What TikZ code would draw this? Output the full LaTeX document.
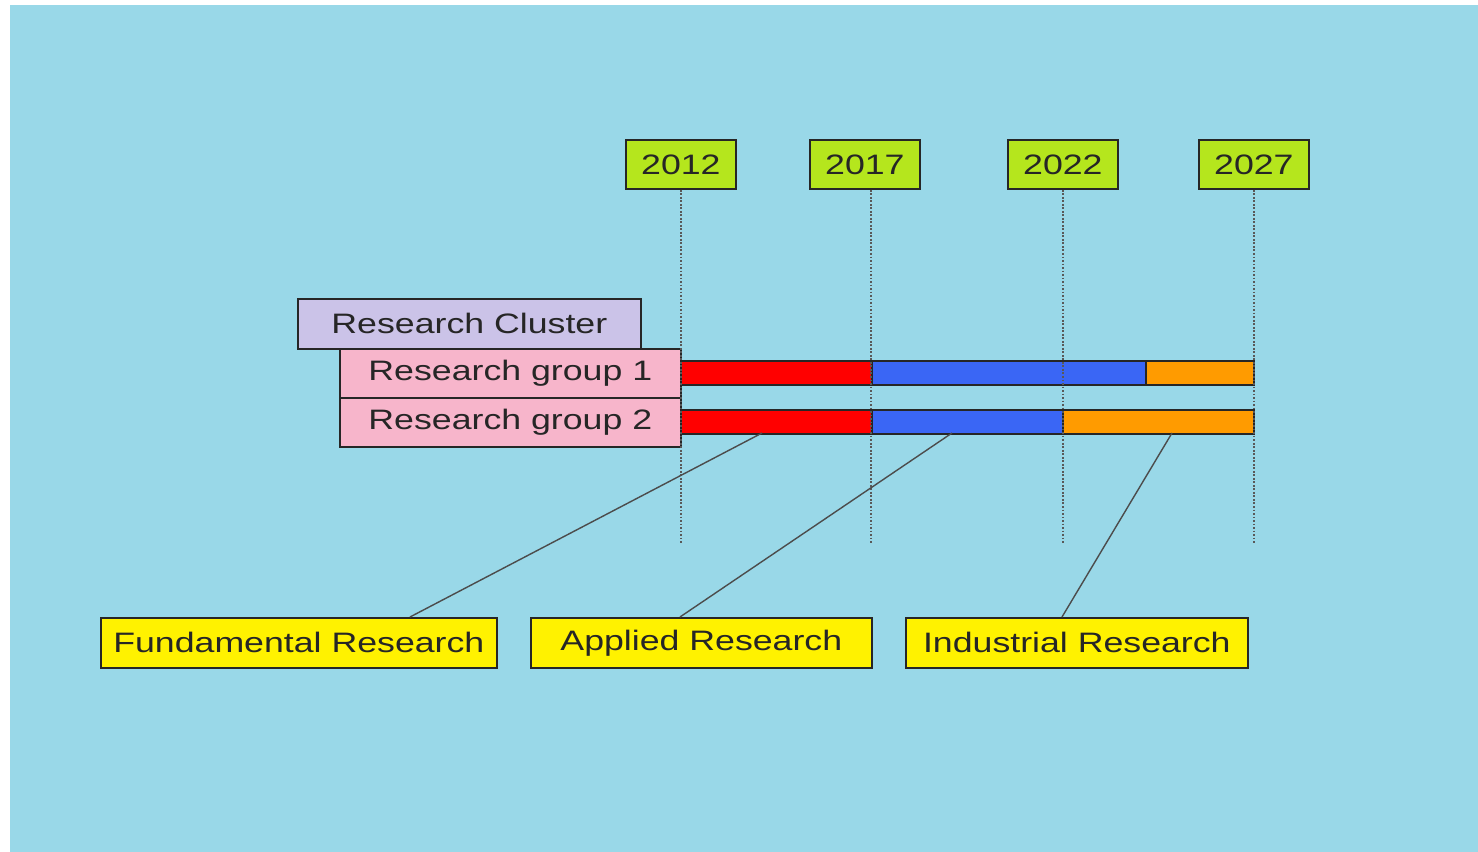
\documentclass[tikz,border=0pt]{standalone}
\usepackage{fontspec}
\newfontfamily\widesans{Liberation Sans}[FakeStretch=1.27]
\usetikzlibrary{positioning}

\definecolor{sky}{HTML}{99D8E8}
\definecolor{lime}{HTML}{B5E61D}
\definecolor{lavender}{HTML}{CBC3E8}
\definecolor{rose}{HTML}{F7B5CB}
\definecolor{barred}{HTML}{FF0000}
\definecolor{barblue}{HTML}{3A66F5}
\definecolor{barorange}{HTML}{FF9B00}
\definecolor{ink}{HTML}{262626}

\begin{document}
\begin{tikzpicture}[
  x=0.02cm, y=-0.02cm,
  box/.style={draw=ink, line width=1pt, anchor=north west, inner sep=0pt,
    font=\widesans\fontsize{16}{19}\selectfont, text=ink},
  year/.style={box, fill=lime, minimum width=2.2cm, minimum height=0.98cm},
  group/.style={box, fill=rose, minimum width=6.82cm, minimum height=0.98cm},
  phase/.style={box, fill=yellow, minimum height=1cm},
  bar/.style={draw=ink, line width=1pt, anchor=north west, inner sep=0pt, minimum height=0.48cm},
  guide/.style={draw=black!65, line width=1pt, densely dotted},
  link/.style={draw=black!70, line width=0.8pt}
]
\useasboundingbox (0,0) rectangle (1478,852);
\fill[sky] (10,5) rectangle (1478,852);

% years
\node[year] (y2012) at (625,139) {2012};
\node[year] (y2017) at (809,139) {2017};
\node[year] (y2022) at (1007,139) {2022};
\node[year] (y2027) at (1198,139) {2027};

% cluster and groups
\node[box, fill=lavender, minimum width=6.86cm, minimum height=1cm] (cluster) at (297,298) {Research Cluster};
\node[group] (grp1) at (339,348) {Research group 1};
\node[group] (grp2) at (339,397) {Research group 2};

% bars
\node[bar, fill=barred, minimum width=3.82cm] (red1) at (680,360) {};
\node[bar, fill=barblue, minimum width=5.48cm] (blue1) at (871,360) {};
\node[bar, fill=barorange, minimum width=2.16cm] (orange1) at (1145,360) {};
\node[bar, fill=barred, minimum width=3.82cm] (red2) at (680,409) {};
\node[bar, fill=barblue, minimum width=3.82cm] (blue2) at (871,409) {};
\node[bar, fill=barorange, minimum width=3.82cm] (orange2) at (1062,409) {};

% time guides
\coordinate (floor) at (0,543);
\draw[guide] (y2012.south) -- (y2012.south |- floor);
\draw[guide] (blue1.west |- y2017.south) -- (blue1.west |- floor);
\draw[guide] (y2022.south) -- (y2022.south |- floor);
\draw[guide] (y2027.south) -- (y2027.south |- floor);

% phases
\node[phase, minimum width=7.92cm] (fund) at (100,617) {Fundamental Research};
\node[phase, minimum width=6.82cm] (appl) at (530,617) {Applied Research};
\node[phase, minimum width=6.84cm] (indu) at (905,617) {Industrial Research};

\coordinate (fundfoot) at (762,433);
\coordinate (applfoot) at (952,433);
\coordinate (indufoot) at (1172,433);
\coordinate (fundhead) at (410,617);
\coordinate (applhead) at (680,617);
\coordinate (induhead) at (1062,617);
\draw[link] (fundfoot) -- (fundhead);
\draw[link] (applfoot) -- (applhead);
\draw[link] (indufoot) -- (induhead);
\end{tikzpicture}
\end{document}
